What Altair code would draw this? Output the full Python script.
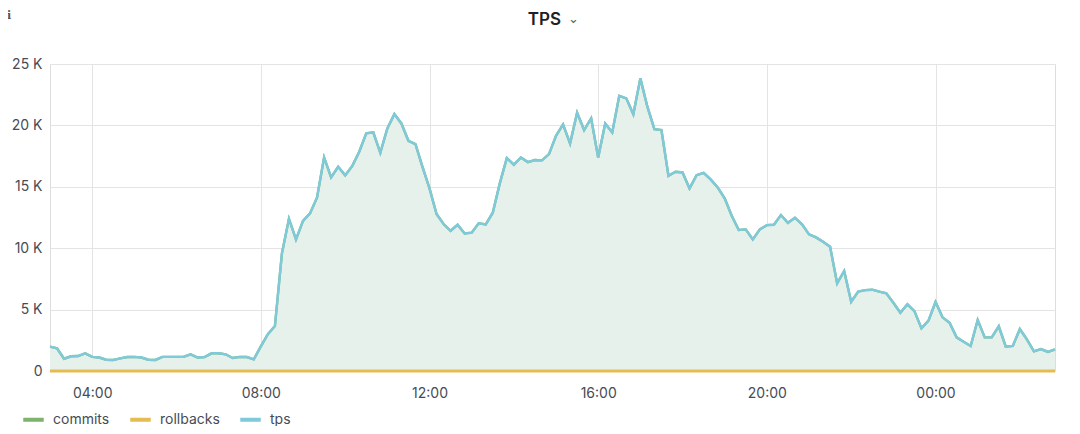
import altair as alt
import pandas as pd

# ---- data (10-minute samples starting 03:00) ----
start_hour = 3
step_minutes = 10
tps = [
    1980, 1850, 1000, 1200, 1220, 1440, 1150, 1100, 920, 900,
    1030, 1140, 1150, 1100, 920, 900, 1150, 1150, 1150, 1150,
    1360, 1100, 1140, 1440, 1440, 1360, 1060, 1150, 1140, 950,
    2000, 3000, 3660, 9580, 12400, 10720, 12230, 12830, 14140, 17390,
    15770, 16630, 15930, 16690, 17850, 19350, 19430, 17770, 19750, 20920,
    20160, 18750, 18480, 16630, 14870, 12780, 11970, 11420, 11910, 11200,
    11260, 12020, 11940, 12890, 15280, 17340, 16800, 17390, 17010, 17180,
    17150, 17660, 19150, 20080, 18530, 21030, 19620, 20570, 17390, 20160,
    19430, 22410, 22200, 20900, 23830, 21520, 19700, 19620, 15900, 16220,
    16170, 14870, 15950, 16140, 15600, 14950, 14060, 12640, 11480, 11530,
    10720, 11530, 11880, 11910, 12700, 12070, 12480, 11940, 11130, 10880,
    10530, 10120, 7140, 8140, 5640, 6460, 6590, 6620, 6460, 6320,
    5560, 4750, 5430, 4880, 3470, 4100, 5620, 4370, 3930, 2740,
    2390, 2040, 4150, 2740, 2740, 3640, 1980, 2040, 3420, 2580,
    1600, 1790, 1550, 1770,
]
commits = list(tps)          # hidden under the tps line
rollbacks = [0] * len(tps)
series_names = ["commits", "rollbacks", "tps"]
series_colors = ["#7EB26D", "#E5BC52", "#7ECADB"]
y_ticks = [0, 5000, 10000, 15000, 20000, 25000]
x_tick_labels = ["04:00", "08:00", "12:00", "16:00", "20:00", "00:00"]
x_tick_minutes = [60, 300, 540, 780, 1020, 1260]   # minutes after 03:00
title_text = "TPS"
chevron_text = "⌄"
info_text = "i"

minutes = [i * step_minutes for i in range(len(tps))]

wide = pd.DataFrame({"m": minutes, "tps": tps})
long = pd.concat(
    [
        pd.DataFrame({"m": minutes, "value": vals, "series": name})
        for name, vals in zip(series_names, [commits, rollbacks, tps])
    ],
    ignore_index=True,
)

FONT = "Inter"
LABEL = "#464c54"
GRID = "#e4e4e4"

label_map = "{" + ",".join(f"'{m}':'{l}'" for m, l in zip(x_tick_minutes, x_tick_labels)) + "}"

x_enc = alt.X(
    "m:Q",
    scale=alt.Scale(domain=[minutes[0], minutes[-1]], nice=False, zero=False),
    axis=alt.Axis(
        title=None,
        values=x_tick_minutes,
        labelExpr=f"{label_map}[datum.value + '']",
        domain=False,
        ticks=False,
        grid=True,
        gridColor=GRID,
        labelFont=FONT,
        labelFontSize=14,
        labelColor=LABEL,
        labelPadding=15,
    ),
)
y_scale = alt.Scale(domain=[0, 25000], nice=False, zero=True)

area = alt.Chart(wide).mark_area(color="#E6F1EC", opacity=1).encode(
    x=x_enc,
    y=alt.Y(
        "tps:Q",
        scale=y_scale,
        axis=alt.Axis(
            title=None,
            values=y_ticks,
            labelExpr="datum.value == 0 ? '0' : (datum.value / 1000) + ' K'",
            domain=False,
            ticks=False,
            grid=True,
            gridColor=GRID,
            labelFont=FONT,
            labelFontSize=14,
            labelColor=LABEL,
            labelPadding=8,
        ),
    ),
)

lines = alt.Chart(long).mark_line(clip=False).encode(
    x=alt.X("m:Q"),
    y=alt.Y("value:Q", scale=y_scale),
    strokeWidth=alt.condition("datum.series == 'rollbacks'", alt.value(3), alt.value(2.4)),
    color=alt.Color(
        "series:N",
        scale=alt.Scale(domain=series_names, range=series_colors),
        legend=alt.Legend(
            orient="none",
            legendX=-29,
            legendY=343,
            direction="horizontal",
            title=None,
            symbolType="stroke",
            symbolStrokeWidth=4,
            symbolSize=420,
            labelFont=FONT,
            labelFontSize=14,
            labelColor=LABEL,
            labelOffset=7,
            columnPadding=12,
        ),
    ),
)

title = alt.Chart(pd.DataFrame({"t": [title_text]})).mark_text(
    font=FONT, fontSize=17, fontWeight=600, color="#1f2026", align="right", baseline="middle"
).encode(text="t:N", x=alt.value(511), y=alt.value(-44))

chevron = alt.Chart(pd.DataFrame({"t": [chevron_text]})).mark_text(
    font="DejaVu Sans", fontSize=13, color="#555b64", align="left", baseline="middle"
).encode(text="t:N", x=alt.value(518), y=alt.value(-45))

info = alt.Chart(pd.DataFrame({"t": [info_text]})).mark_text(
    font="DejaVu Serif", fontSize=11, fontWeight="bold", color="#555555", align="left", baseline="alphabetic"
).encode(text="t:N", x=alt.value(-43), y=alt.value(-45))

chart = (
    alt.layer(area, lines, title, chevron, info)
    .properties(
        width=1005,
        height=307,
        autosize=alt.AutoSizeParams(type="none"),
        padding={"left": 42, "top": 56, "right": 17, "bottom": 55},
    )
    .configure_view(stroke=None)
    .configure(background="white")
)

chart.save("out.html", embed_options={"renderer": "svg", "actions": False})
